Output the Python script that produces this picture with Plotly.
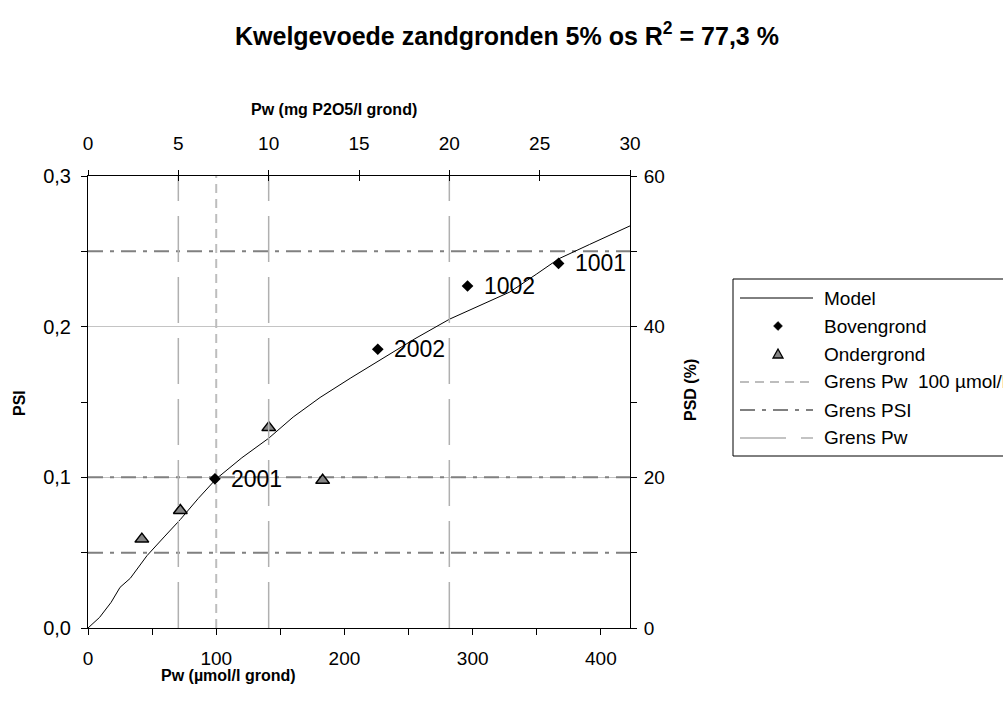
import plotly.graph_objects as go

# ---------------- data ----------------
# model curve: PSI as function of Pw (µmol/l grond)
pw_model = [0, 9, 18, 25, 33, 46, 60, 72, 86, 100, 120, 141, 160, 181, 205, 228,
            255, 282, 305, 329, 350, 367, 391, 423]
psi_model = [0, 0.007, 0.017, 0.027, 0.033, 0.048, 0.061, 0.072, 0.086, 0.099,
             0.113, 0.126, 0.140, 0.153, 0.166, 0.178, 0.192, 0.205, 0.214,
             0.223, 0.235, 0.245, 0.2545, 0.267]

# topsoil samples (Bovengrond) with their codes
pw_boven = [99, 226, 296, 367]
psi_boven = [0.099, 0.185, 0.227, 0.242]
code_boven = ["2001", "2002", "1002", "1001"]

# subsoil samples (Ondergrond)
pw_onder = [42, 72, 141, 183]
psi_onder = [0.059, 0.078, 0.133, 0.098]

# limit lines
grens_psi = [0.05, 0.10, 0.25]
grens_pw_umol = 100
grens_pw_mg = [5, 10, 20]

# axis ticks
x_ticks_umol = [0, 100, 200, 300, 400]
x_ticks_mg = [0, 5, 10, 15, 20, 25, 30]
psi_ticks = [0.0, 0.1, 0.2, 0.3]
psi_ticktext = ["0,0", "0,1", "0,2", "0,3"]
psd_ticks = [0, 20, 40, 60]

# 1 mg P2O5 contains 2 mmol/141.94 P -> µmol P
UMOL_PER_MG = 2000.0 / 141.94
X_MAX_MG = 30
X_MAX_UMOL = X_MAX_MG * UMOL_PER_MG
PSD_MAX = 60

# ---------------- page geometry (pixels) ----------------
W, H = 1003, 710
PL, PR, PT, PB = 88, 630, 176, 628


def fx(px):
    return px / W


def fy(py):
    return 1 - py / H


FONT = "Arial, 'Liberation Sans', sans-serif"
C_PSI = "#808080"
C_PW100 = "#bdbdbd"
C_PW = "#b0b0b0"
DASH_PSI = "15px,7px,4px,7px"
DASH_PW100 = "9px,6px"
DASH_PW = "46px,15px"

fig = go.Figure()

# Grens Pw (5, 10, 20 mg P2O5/l) on the mg axis
gx, gy = [], []
for v in grens_pw_mg:
    gx += [v, v, None]
    gy += [0, 0.3, None]
fig.add_trace(go.Scatter(x=gx, y=gy, xaxis="x2", yaxis="y", mode="lines",
                         line=dict(color=C_PW, width=1.5, dash=DASH_PW),
                         hoverinfo="skip"))

# Grens Pw 100 µmol/l
fig.add_trace(go.Scatter(x=[grens_pw_umol, grens_pw_umol], y=[0, 0.3],
                         mode="lines", line=dict(color=C_PW100, width=2, dash=DASH_PW100),
                         hoverinfo="skip"))

# Grens PSI
hx, hy = [], []
for v in grens_psi:
    hx += [0, X_MAX_UMOL, None]
    hy += [v, v, None]
fig.add_trace(go.Scatter(x=hx, y=hy, mode="lines",
                         line=dict(color=C_PSI, width=2, dash=DASH_PSI),
                         hoverinfo="skip"))

# Model
fig.add_trace(go.Scatter(x=pw_model, y=psi_model, mode="lines",
                         line=dict(color="black", width=1)))

# Ondergrond
fig.add_trace(go.Scatter(x=pw_onder, y=psi_onder, mode="markers",
                         marker=dict(symbol="triangle-up", size=12, color="#858585",
                                     line=dict(color="black", width=1.5))))

# Bovengrond
fig.add_trace(go.Scatter(x=pw_boven, y=psi_boven, mode="markers",
                         marker=dict(symbol="diamond", size=9, color="black")))

# empty traces so that the secondary PSD axis and the inner top ticks are rendered
fig.add_trace(go.Scatter(x=[None], y=[None], xaxis="x", yaxis="y2", mode="lines",
                         hoverinfo="skip"))
fig.add_trace(go.Scatter(x=[None], y=[None], xaxis="x3", yaxis="y", mode="lines",
                         hoverinfo="skip"))

annotations = []
for x, y, t in zip(pw_boven, psi_boven, code_boven):
    annotations.append(dict(x=x, y=y, xref="x", yref="y", text=t, showarrow=False,
                            xanchor="left", yanchor="middle", xshift=14,
                            font=dict(size=23, color="black", family=FONT)))


def label(px, py, text, size, angle=0):
    return dict(x=fx(px), y=fy(py), xref="paper", yref="paper", showarrow=False,
                xanchor="center", yanchor="middle", textangle=angle, text=text,
                font=dict(size=size, family=FONT, color="black"))


# title and axis titles
annotations += [
    label(507, 34, "<b>Kwelgevoede zandgronden 5% os R<sup>2</sup> = 77,3 %</b>", 25),
    label(334, 109, "<b>Pw (mg P2O5/l grond)</b>", 16),
    label(228, 675, "<b>Pw (µmol/l grond)</b>", 16),
    label(19, 403, "<b>PSI</b>", 16, -90),
    label(690, 390, "<b>PSD (%)</b>", 16, -90),
]

# ---------------- legend box ----------------
LG_L, LG_T, LG_ROW = 733, 279, 28
LINE_X0, LINE_X1, TXT_X, MK_X = 740, 813, 822, 778
rows = [LG_T + 19 + i * LG_ROW for i in range(6)]
shapes = [dict(type="rect", xref="paper", yref="paper", x0=fx(LG_L), x1=1.05,
               y0=fy(rows[-1] + 18), y1=fy(LG_T), line=dict(color="black", width=1),
               fillcolor="white", layer="above")]


def hline(py, color, width, dash):
    return dict(type="line", xref="paper", yref="paper", x0=fx(LINE_X0), x1=fx(LINE_X1),
                y0=fy(py), y1=fy(py), line=dict(color=color, width=width, dash=dash),
                layer="above")


def poly(points, fill, outline, lw):
    d = "M " + " L ".join(f"{fx(px):.5f},{fy(py):.5f}" for px, py in points) + " Z"
    return dict(type="path", xref="paper", yref="paper", path=d, fillcolor=fill,
                line=dict(color=outline, width=lw), layer="above")


shapes.append(hline(rows[0], "black", 1, "solid"))
shapes.append(poly([(MK_X, rows[1] - 4.5), (MK_X + 4.5, rows[1]), (MK_X, rows[1] + 4.5),
                    (MK_X - 4.5, rows[1])], "black", "black", 0.5))
shapes.append(poly([(MK_X, rows[2] - 5), (MK_X + 5, rows[2] + 4), (MK_X - 5, rows[2] + 4)],
                   "#858585", "black", 1.3))
shapes.append(hline(rows[3], C_PW100, 2, DASH_PW100))
shapes.append(hline(rows[4], C_PSI, 2, DASH_PSI))
shapes.append(hline(rows[5], C_PW, 1.5, DASH_PW))

legend_names = ["Model", "Bovengrond", "Ondergrond", "Grens Pw  100 µmol/l", "Grens PSI", "Grens Pw"]
for py, name in zip(rows, legend_names):
    annotations.append(dict(x=fx(TXT_X), y=fy(py), xref="paper", yref="paper", text=name,
                            showarrow=False, xanchor="left", yanchor="middle",
                            font=dict(size=19, family=FONT, color="black")))

axis_common = dict(showline=True, linecolor="black", linewidth=1, zeroline=False,
                   tickcolor="black", tickwidth=1)
TICKFONT = dict(size=19, family=FONT, color="black")

fig.update_layout(
    width=W, height=H,
    margin=dict(l=0, r=0, t=0, b=0, autoexpand=False),
    paper_bgcolor="white", plot_bgcolor="white",
    showlegend=False,
    font=dict(family=FONT, color="black"),
    xaxis=dict(domain=[fx(PL), fx(PR)], range=[0, X_MAX_UMOL], anchor="y", mirror=True,
               tickmode="array", tickvals=x_ticks_umol, ticks="outside", ticklen=6,
               minor=dict(dtick=50, tick0=0, ticks="outside", ticklen=6, tickcolor="black"),
               showgrid=False, ticklabelstandoff=7, tickfont=TICKFONT, **axis_common),
    xaxis2=dict(overlaying="x", side="top", anchor="y", range=[0, X_MAX_MG],
                tickmode="array", tickvals=x_ticks_mg, ticks="outside", ticklen=5,
                showgrid=False, ticklabelstandoff=12, tickfont=TICKFONT, **axis_common),
    xaxis3=dict(overlaying="x", side="top", anchor="y", range=[0, X_MAX_MG],
                tickmode="array", tickvals=x_ticks_mg, ticks="inside", ticklen=5,
                showticklabels=False, showgrid=False, showline=False, zeroline=False,
                tickcolor="black"),
    yaxis=dict(domain=[fy(PB), fy(PT)], range=[0, 0.3], anchor="x", mirror=True,
               tickmode="array", tickvals=psi_ticks, ticktext=psi_ticktext,
               ticks="outside", ticklen=6,
               minor=dict(dtick=0.05, tick0=0, ticks="outside", ticklen=6, tickcolor="black"),
               showgrid=True, gridcolor="#c4c4c4", gridwidth=1, ticklabelstandoff=6,
               tickfont=dict(size=20, family=FONT, color="black"), **axis_common),
    yaxis2=dict(overlaying="y", side="right", anchor="x", range=[0, PSD_MAX],
                tickmode="array", tickvals=psd_ticks, ticks="outside", ticklen=6,
                minor=dict(dtick=10, tick0=0, ticks="outside", ticklen=6, tickcolor="black"),
                showgrid=False, ticklabelstandoff=3, tickfont=TICKFONT, **axis_common),
    annotations=annotations,
    shapes=shapes,
)

fig.write_html("out.html")
